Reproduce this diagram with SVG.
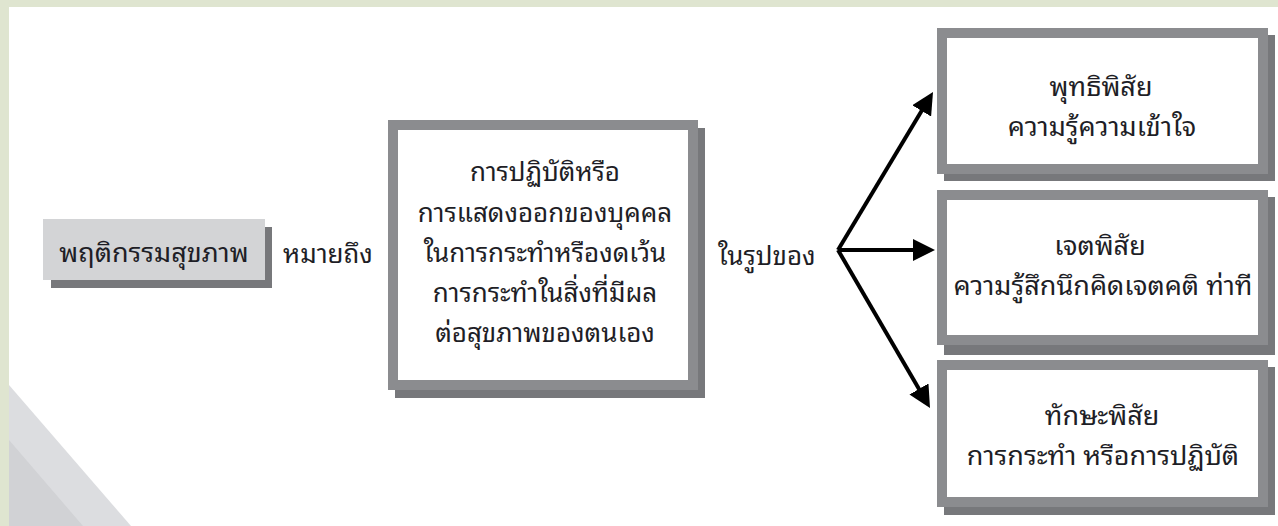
<svg xmlns="http://www.w3.org/2000/svg" width="1278" height="526" viewBox="0 0 1278 526">
  <style>
    .t { font-family: "Noto Sans Thai Looped", "Leelawadee UI", Tahoma, Loma, Garuda, "Noto Serif Thai", "Noto Sans Thai", "Noto Sans", sans-serif; font-size: 27px; fill: #1e1e26; text-anchor: middle; }
    .tc { font-size: 26px; }
    .tl { font-family: "Noto Sans Thai Looped", "Leelawadee UI", Tahoma, Loma, Garuda, "Noto Serif Thai", "Noto Sans Thai", "Noto Sans", sans-serif; font-size: 26px; fill: #1e1e26; text-anchor: start; }
    .frame { fill: #ffffff; stroke: #8b8c8f; stroke-width: 10; }
    .shadow { fill: #77787b; }
    .arrow { stroke: #000; stroke-width: 4; fill: none; }
  </style>
  <defs>
    <marker id="ah" viewBox="0 0 22 22" refX="12" refY="11" markerWidth="22" markerHeight="22" markerUnits="userSpaceOnUse" orient="auto">
      <path d="M0,0 L22,11 L0,22 z" fill="#000"/>
    </marker>
  </defs>

  <rect x="0" y="0" width="1278" height="526" fill="#dfe5d0"/>
  <rect x="9" y="7" width="1269" height="519" fill="#ffffff"/>
  <polygon points="9,385 131,526 9,526" fill="#dcdde0"/>
  <polygon points="9,440 83,526 9,526" fill="#d1d2d5"/>

  <g id="node-health-behavior">
    <rect x="51" y="227" width="221" height="61" class="shadow"/>
    <rect x="43" y="219" width="222" height="61" fill="#d3d4d6"/>
    <text x="154" y="262" class="t">พฤติกรรมสุขภาพ</text>
  </g>

  <g id="label-means">
    <text x="283" y="263" class="tl">หมายถึง</text>
  </g>

  <g id="node-definition">
    <rect x="395" y="128" width="310" height="270" class="shadow"/>
    <rect x="393" y="125" width="300" height="260" class="frame"/>
    <text x="545" y="181" class="t tc">การปฏิบัติหรือ</text>
    <text x="545" y="222" class="t tc">การแสดงออกของบุคคล</text>
    <text x="545" y="262" class="t tc">ในการกระทำหรืองดเว้น</text>
    <text x="545" y="302" class="t tc">การกระทำในสิ่งที่มีผล</text>
    <text x="545" y="342" class="t tc">ต่อสุขภาพของตนเอง</text>
  </g>

  <g id="label-form">
    <text x="718" y="265" class="tl">ในรูปของ</text>
  </g>

  <g id="connectors">
    <line x1="838" y1="250" x2="927.85" y2="100.57" class="arrow" marker-end="url(#ah)"/>
    <line x1="838" y1="250" x2="925" y2="250" class="arrow" stroke-width="5" marker-end="url(#ah)"/>
    <line x1="838" y1="250" x2="924.97" y2="399.36" class="arrow" marker-end="url(#ah)"/>
  </g>

  <g id="node-cognitive">
    <rect x="944" y="35" width="331" height="146" class="shadow"/>
    <rect x="942" y="33" width="321" height="136" class="frame"/>
    <text x="1101" y="96" class="t">พุทธิพิสัย</text>
    <text x="1102" y="136" class="t">ความรู้ความเข้าใจ</text>
  </g>

  <g id="node-affective">
    <rect x="944" y="197" width="331" height="158" class="shadow"/>
    <rect x="942" y="195" width="321" height="145" class="frame"/>
    <text x="1100" y="255" class="t">เจตพิสัย</text>
    <text x="1103" y="295" class="t">ความรู้สึกนึกคิดเจตคติ ท่าที</text>
  </g>

  <g id="node-psychomotor">
    <rect x="944" y="367" width="331" height="148" class="shadow"/>
    <rect x="942" y="365" width="321" height="137" class="frame"/>
    <text x="1102" y="425" class="t">ทักษะพิสัย</text>
    <text x="1103" y="465" class="t">การกระทำ หรือการปฏิบัติ</text>
  </g>
</svg>
